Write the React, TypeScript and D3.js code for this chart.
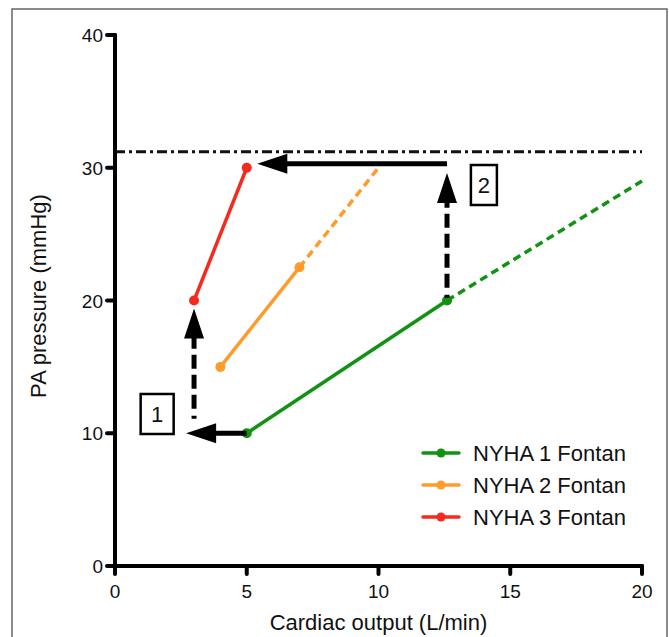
import { useEffect, useRef } from 'react';
import * as d3 from 'd3';

type Pt = { co: number; pa: number };

// measured points (solid) and projected continuation (dashed)
const nyha1: Pt[] = [{ co: 5, pa: 10 }, { co: 12.6, pa: 20 }];
const nyha1Proj: Pt[] = [{ co: 12.6, pa: 20 }, { co: 20, pa: 29 }];
const nyha2: Pt[] = [{ co: 4, pa: 15 }, { co: 7, pa: 22.5 }];
const nyha2Proj: Pt[] = [{ co: 7, pa: 22.5 }, { co: 10, pa: 30 }];
const nyha3: Pt[] = [{ co: 3, pa: 20 }, { co: 5, pa: 30 }];

const threshold = 31.2;

const xTicks = [0, 5, 10, 15, 20];
const yTicks = [0, 10, 20, 30, 40];

const legendLabels = ['NYHA 1 Fontan', 'NYHA 2 Fontan', 'NYHA 3 Fontan'];
const colors = ['#119311', '#ff9b2b', '#f52a1e'];

// arrows: start -> tip, dashed or solid
const arrows = [
  { from: { co: 5, pa: 10 }, to: { co: 2.7, pa: 10 }, dashed: false },
  { from: { co: 3, pa: 11.1 }, to: { co: 3, pa: 19.4 }, dashed: true },
  { from: { co: 12.6, pa: 20.2 }, to: { co: 12.6, pa: 29.6 }, dashed: true },
  { from: { co: 12.6, pa: 30.3 }, to: { co: 5.4, pa: 30.3 }, dashed: false },
];

const boxes = [
  { label: '1', co: 1.6, pa: 11.45 },
  { label: '2', co: 14.0, pa: 28.7 },
];

const App = () => {
  const svgRef = useRef<SVGSVGElement>(null);

  useEffect(() => {
    const width = 669;
    const height = 637;
    const svg = d3.select(svgRef.current).attr('width', width).attr('height', height);
    svg.selectAll('*').remove();

    const x = d3.scaleLinear().domain([0, 20]).range([115, 642]);
    const y = d3.scaleLinear().domain([0, 40]).range([566, 35]);
    const font = 'Liberation Sans, Arial, sans-serif';

    // frame
    svg.append('rect')
      .attr('x', 12).attr('y', 9)
      .attr('width', 655).attr('height', 640)
      .attr('fill', 'white')
      .attr('stroke', '#666').attr('stroke-width', 1.5);

    // threshold dash-dot line
    svg.append('line')
      .attr('x1', x(0)).attr('x2', x(20))
      .attr('y1', y(threshold)).attr('y2', y(threshold))
      .attr('stroke', '#111').attr('stroke-width', 3)
      .attr('stroke-dasharray', '10,4,3,4');

    const line = d3.line<Pt>().x(d => x(d.co)).y(d => y(d.pa));

    const series = [
      { solid: nyha1, proj: nyha1Proj, color: colors[0] },
      { solid: nyha2, proj: nyha2Proj, color: colors[1] },
      { solid: nyha3, proj: null, color: colors[2] },
    ];

    series.forEach(s => {
      if (s.proj) {
        svg.append('path')
          .attr('d', line(s.proj))
          .attr('fill', 'none')
          .attr('stroke', s.color)
          .attr('stroke-width', 3.5)
          .attr('stroke-dasharray', '8,5');
      }
      svg.append('path')
        .attr('d', line(s.solid))
        .attr('fill', 'none')
        .attr('stroke', s.color)
        .attr('stroke-width', 3.5);
      svg.selectAll(null)
        .data(s.solid)
        .enter().append('circle')
        .attr('cx', d => x(d.co))
        .attr('cy', d => y(d.pa))
        .attr('r', 5)
        .attr('fill', s.color);
    });

    // arrows
    const headLen = 30;
    const headHalf = 10;
    arrows.forEach(a => {
      const x1 = x(a.from.co), y1 = y(a.from.pa);
      const x2 = x(a.to.co), y2 = y(a.to.pa);
      const len = Math.hypot(x2 - x1, y2 - y1);
      const ux = (x2 - x1) / len, uy = (y2 - y1) / len;
      const bx = x2 - ux * headLen, by = y2 - uy * headLen;
      svg.append('line')
        .attr('x1', x1).attr('y1', y1)
        .attr('x2', bx + ux * 2).attr('y2', by + uy * 2)
        .attr('stroke', '#000')
        .attr('stroke-width', 5)
        .attr('stroke-dasharray', a.dashed ? '3,7,14,6,14,6,14,6,14,6,14,6' : null);
      svg.append('path')
        .attr('d', `M${x2},${y2}L${bx - uy * headHalf},${by + ux * headHalf}L${bx + uy * headHalf},${by - ux * headHalf}Z`)
        .attr('fill', '#000');
    });

    // boxes
    boxes.forEach(b => {
      const cx = x(b.co), cy = y(b.pa);
      const w = b.label === '1' ? 33 : 26;
      svg.append('rect')
        .attr('x', cx - w / 2).attr('y', cy - 20)
        .attr('width', w).attr('height', 40)
        .attr('fill', 'white')
        .attr('stroke', '#000').attr('stroke-width', 2.5);
      svg.append('text')
        .attr('x', cx).attr('y', cy + 8)
        .attr('text-anchor', 'middle')
        .attr('font-family', font)
        .attr('font-size', 22)
        .attr('fill', '#111')
        .text(b.label);
    });

    // axes
    const axisColor = '#000';
    svg.append('line')
      .attr('x1', x(0)).attr('x2', x(20))
      .attr('y1', y(0)).attr('y2', y(0))
      .attr('stroke', axisColor).attr('stroke-width', 4).attr('stroke-linecap', 'round');
    svg.append('line')
      .attr('x1', x(0)).attr('x2', x(0))
      .attr('y1', y(0)).attr('y2', y(40))
      .attr('stroke', axisColor).attr('stroke-width', 4).attr('stroke-linecap', 'round');

    svg.selectAll(null).data(xTicks).enter().append('line')
      .attr('x1', d => x(d)).attr('x2', d => x(d))
      .attr('y1', y(0)).attr('y2', y(0) + 8)
      .attr('stroke', axisColor).attr('stroke-width', 4).attr('stroke-linecap', 'round');
    svg.selectAll(null).data(xTicks).enter().append('text')
      .attr('x', d => x(d)).attr('y', y(0) + 32)
      .attr('text-anchor', 'middle')
      .attr('font-family', font).attr('font-size', 19).attr('fill', '#111')
      .text(d => d);

    svg.selectAll(null).data(yTicks).enter().append('line')
      .attr('x1', x(0) - 8).attr('x2', x(0))
      .attr('y1', d => y(d)).attr('y2', d => y(d))
      .attr('stroke', axisColor).attr('stroke-width', 4).attr('stroke-linecap', 'round');
    svg.selectAll(null).data(yTicks).enter().append('text')
      .attr('x', x(0) - 12).attr('y', d => y(d) + 7)
      .attr('text-anchor', 'end')
      .attr('font-family', font).attr('font-size', 19).attr('fill', '#111')
      .text(d => d);

    svg.append('text')
      .attr('x', (x(0) + x(20)) / 2).attr('y', 630)
      .attr('text-anchor', 'middle')
      .attr('font-family', font).attr('font-size', 22).attr('fill', '#111')
      .text('Cardiac output (L/min)');
    svg.append('text')
      .attr('transform', 'translate(46, 296) rotate(-90)')
      .attr('text-anchor', 'middle')
      .attr('font-family', font).attr('font-size', 22).attr('fill', '#111')
      .text('PA pressure (mmHg)');

    // legend
    const legend = svg.append('g').attr('transform', 'translate(423, 453)');
    legendLabels.forEach((label, i) => {
      const g = legend.append('g').attr('transform', `translate(0, ${i * 32})`);
      g.append('line')
        .attr('x1', 0).attr('x2', 36)
        .attr('stroke', colors[i]).attr('stroke-width', 3.5).attr('stroke-linecap', 'round');
      g.append('circle').attr('cx', 18).attr('r', 4.5).attr('fill', colors[i]);
      g.append('text')
        .attr('x', 50).attr('y', 8)
        .attr('font-family', font).attr('font-size', 22).attr('fill', '#111')
        .text(label);
    });
  }, []);

  return (
    <div style={{ position: 'absolute', left: 0, top: 0 }}>
      <svg ref={svgRef} style={{ display: 'block' }} />
    </div>
  );
};

export default App;
